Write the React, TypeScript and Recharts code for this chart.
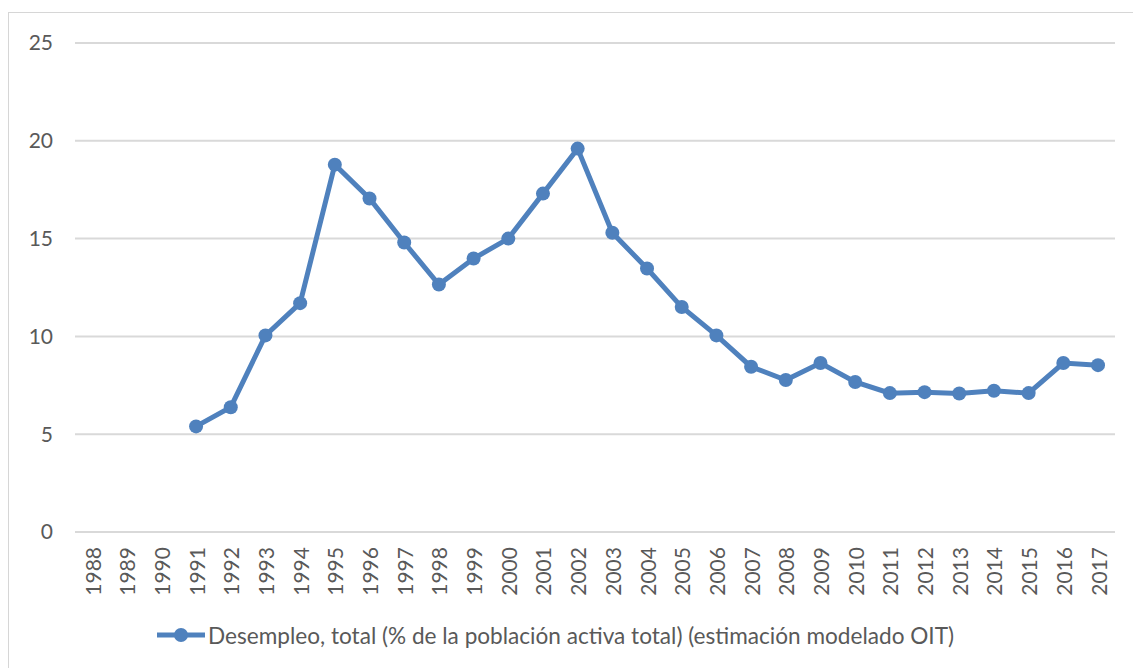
import { LineChart, Line, XAxis, YAxis, CartesianGrid, Legend } from "recharts";

const years = [
  "1988", "1989", "1990", "1991", "1992", "1993", "1994", "1995", "1996", "1997",
  "1998", "1999", "2000", "2001", "2002", "2003", "2004", "2005", "2006", "2007",
  "2008", "2009", "2010", "2011", "2012", "2013", "2014", "2015", "2016", "2017",
];

// sin datos para 1988-1990
const desempleo: (number | null)[] = [
  null, null, null, 5.4, 6.38, 10.05, 11.7, 18.78, 17.05, 14.8,
  12.65, 13.98, 15.0, 17.3, 19.6, 15.3, 13.47, 11.5, 10.05, 8.45,
  7.77, 8.64, 7.67, 7.1, 7.15, 7.08, 7.22, 7.1, 8.64, 8.53,
];

const yTicks = [0, 5, 10, 15, 20, 25];

const seriesName = "Desempleo, total (% de la población activa total) (estimación modelado OIT)";

const BLUE = "#4f81bd";
const TEXT = "#595959";
const FONT = "Lato, 'Open Sans', sans-serif";

const chartData = years.map((y, i) => ({ year: y, value: desempleo[i] }));

const YearTick = ({ x, y, payload }: any) => (
  <text
    x={x}
    y={y}
    transform={`rotate(-90 ${x} ${y})`}
    textAnchor="end"
    dominantBaseline="central"
    fill={TEXT}
    fontSize={21}
    fontFamily={FONT}
  >
    {payload.value}
  </text>
);

const LegendContent = () => (
  <div style={{ height: 40, display: "flex", alignItems: "center", paddingLeft: 156, fontFamily: FONT }}>
    <svg width={50} height={20} style={{ marginRight: 2 }}>
      <line x1={1} y1={10} x2={49} y2={10} stroke={BLUE} strokeWidth={5} />
      <circle cx={25} cy={10} r={7} fill={BLUE} />
    </svg>
    <span style={{ fontSize: 22.6, color: TEXT, whiteSpace: "nowrap" }}>{seriesName}</span>
  </div>
);

export default function App() {
  return (
    <div style={{ position: "absolute", left: 0, top: 0, width: 1133, height: 668, overflow: "hidden", background: "#fff" }}>
      <div
        style={{
          position: "absolute",
          left: 8,
          top: 12,
          width: 1200,
          height: 700,
          border: "1.5px solid #d6d6d6",
        }}
      />
      <div style={{ position: "absolute", left: 0, top: 0 }}>
        <LineChart width={1133} height={668} data={chartData} margin={{ top: 43, right: 18, bottom: 13, left: 0 }}>
          <CartesianGrid vertical={false} stroke="#d9d9d9" strokeWidth={2} />
          <XAxis
            dataKey="year"
            interval={0}
            tick={<YearTick />}
            tickLine={false}
            axisLine={{ stroke: "#d9d9d9", strokeWidth: 2 }}
            tickMargin={9}
            height={83}
            padding={{ left: 17, right: 17 }}
          />
          <YAxis
            domain={[0, 25]}
            ticks={yTicks}
            tickLine={false}
            axisLine={false}
            width={75}
            tickMargin={16}
            tick={{ fill: TEXT, fontSize: 21, fontFamily: FONT }}
          />
          <Legend verticalAlign="bottom" content={<LegendContent />} />
          <Line
            type="linear"
            dataKey="value"
            name={seriesName}
            stroke={BLUE}
            strokeWidth={5}
            dot={{ r: 7, fill: BLUE, stroke: BLUE, strokeWidth: 0 }}
            activeDot={false}
            connectNulls={false}
            isAnimationActive={false}
          />
        </LineChart>
      </div>
    </div>
  );
}
